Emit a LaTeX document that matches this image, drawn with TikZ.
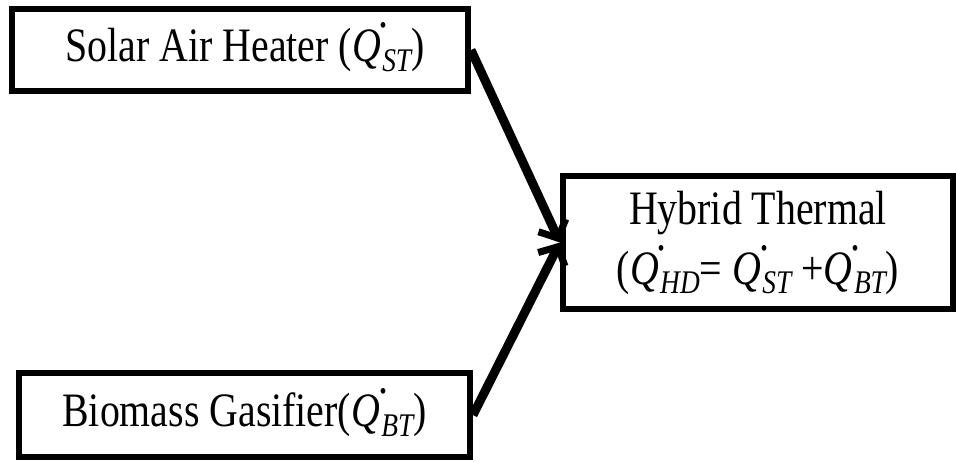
\documentclass[tikz,border=0pt]{standalone}
\usepackage{fontspec}
\setmainfont{Liberation Serif}[FakeStretch=0.83]
\usetikzlibrary{arrows.meta}
\newcommand{\Qdot}[1]{\textit{Q}\makebox[0pt][l]{\hspace{-0.04em}\smash{\raisebox{0.7em}{.}}}\hspace{0.03em}\smash{\raisebox{-0.2em}{\fontsize{33}{33}\selectfont\itshape #1}}}
\tikzset{
  box/.style={draw, line width=6pt, rectangle, inner sep=0pt, align=center,
    font=\fontsize{48}{60}\selectfont},
  flow/.style={line width=9pt, -{Straight Barb[length=14pt,width=30pt,line width=7pt]}}
}
\begin{document}
\begin{tikzpicture}[x=1pt,y=-1pt]
\useasboundingbox (0,0) rectangle (956,461);
\node[box, minimum width=456pt, minimum height=82pt] (sah) at (240,50) {\hspace{10pt}Solar Air Heater (\Qdot{ST})};
\node[box, minimum width=451pt, minimum height=84pt] (bg) at (244.5,415) {Biomass Gasifier(\Qdot{BT})};
\node[box, minimum width=390pt, minimum height=133pt] (ht) at (758,242.5) {Hybrid Thermal\\(\Qdot{HD}= \Qdot{ST} +\Qdot{BT})};
\draw[flow] (sah.east) -- (ht.west);
\draw[flow] (bg.east) -- (ht.west);
\end{tikzpicture}
\end{document}
